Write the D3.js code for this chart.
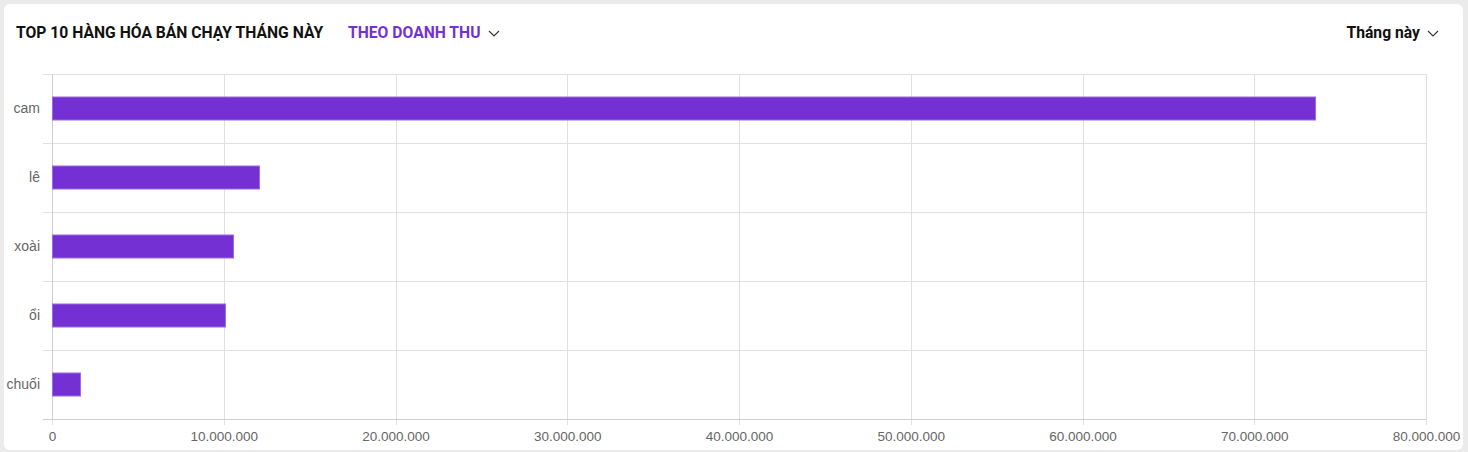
<!DOCTYPE html>
<html><head><meta charset="utf-8">
<script src="https://cdn.jsdelivr.net/npm/d3@7"></script>
<style>
html,body{margin:0;padding:0;background:#ebebeb;}
svg{display:block;}
</style></head>
<body>
<svg id="chart" width="1468" height="452"></svg>
<script>
const categories = ["cam", "lê", "xoài", "ổi", "chuối"];
const values = [73540000, 12050000, 10540000, 10070000, 1630000];
const xTicks = [0, 10000000, 20000000, 30000000, 40000000, 50000000, 60000000, 70000000, 80000000];
const title = "TOP 10 HÀNG HÓA BÁN CHẠY THÁNG NÀY";
const metricLabel = "THEO DOANH THU";
const periodLabel = "Tháng này";

const svg = d3.select("#chart");
const purple = "#7530d3";

// card
svg.append("rect").attr("x", 4).attr("y", 4).attr("width", 1459).attr("height", 446)
  .attr("rx", 6).attr("fill", "#fff");

// header
const hdr = svg.append("g").attr("font-family", "Roboto, sans-serif").attr("font-weight", 700).attr("font-size", 15.7);
hdr.append("text").attr("x", 16).attr("y", 38).attr("fill", "#111").text(title);
hdr.append("text").attr("x", 348).attr("y", 38).attr("fill", purple).text(metricLabel);
hdr.append("text").attr("x", 1420).attr("y", 38).attr("fill", "#111").attr("text-anchor", "end").text(periodLabel);
function chevron(cx, cy) {
  svg.append("path").attr("d", `M${cx-5},${cy-3} L${cx},${cy+2} L${cx+5},${cy-3}`)
    .attr("fill", "none").attr("stroke", "#333").attr("stroke-width", 1.1);
}
chevron(494, 34);
chevron(1433, 34);

// scales
const x = d3.scaleLinear().domain([0, 80000000]).range([52, 1426]);
const y = d3.scaleBand().domain(categories).range([74, 419]).paddingInner(0).paddingOuter(0);

const fmt = v => d3.format(",")(v).replace(/,/g, ".");

// vertical grid
svg.append("g").selectAll("line").data(xTicks).join("line")
  .attr("x1", d => Math.round(x(d)) + 0.5).attr("x2", d => Math.round(x(d)) + 0.5)
  .attr("y1", 74).attr("y2", 425)
  .attr("stroke", "#e0e0e0").attr("stroke-width", 1);

// horizontal grid (band boundaries)
const bounds = categories.map(c => y(c)).concat([y.range()[1]]);
svg.append("g").selectAll("line").data(bounds).join("line")
  .attr("x1", 43).attr("x2", 1426)
  .attr("y1", d => Math.round(d) + 0.5).attr("y2", d => Math.round(d) + 0.5)
  .attr("stroke", (d, i) => i === bounds.length - 1 ? "#cfcfcf" : "#e0e0e0").attr("stroke-width", 1);

// y axis line
svg.append("line").attr("x1", 52.5).attr("x2", 52.5).attr("y1", 74).attr("y2", 420)
  .attr("stroke", "#cfcfcf");

// bars
const bh = 23;
svg.append("g").selectAll("rect").data(values).join("rect")
  .attr("x", x(0) + 0.5)
  .attr("y", (d, i) => y(categories[i]) + y.bandwidth() / 2 - bh / 2)
  .attr("width", d => x(d) - x(0))
  .attr("height", bh)
  .attr("fill", purple)
  .attr("stroke", "#9a6be0").attr("stroke-width", 1);

// axes text
const xAxis = d3.axisBottom(x).tickValues(xTicks).tickFormat(fmt).tickSize(0).tickPadding(0);
const gx = svg.append("g").attr("transform", "translate(0,431)").call(xAxis);
gx.select(".domain").remove();
gx.selectAll("text").attr("font-family", "Arial, 'Liberation Sans', sans-serif").attr("font-size", 13.5)
  .attr("fill", "#666").attr("dy", "0.71em").attr("y", 0);

const yAxis = d3.axisLeft(y).tickSize(0).tickPadding(0);
const gy = svg.append("g").attr("transform", "translate(40,0)").call(yAxis);
gy.select(".domain").remove();
gy.selectAll("text").attr("font-family", "Arial, 'Liberation Sans', sans-serif").attr("font-size", 14)
  .attr("fill", "#666").attr("x", 0);
</script>
</body></html>
